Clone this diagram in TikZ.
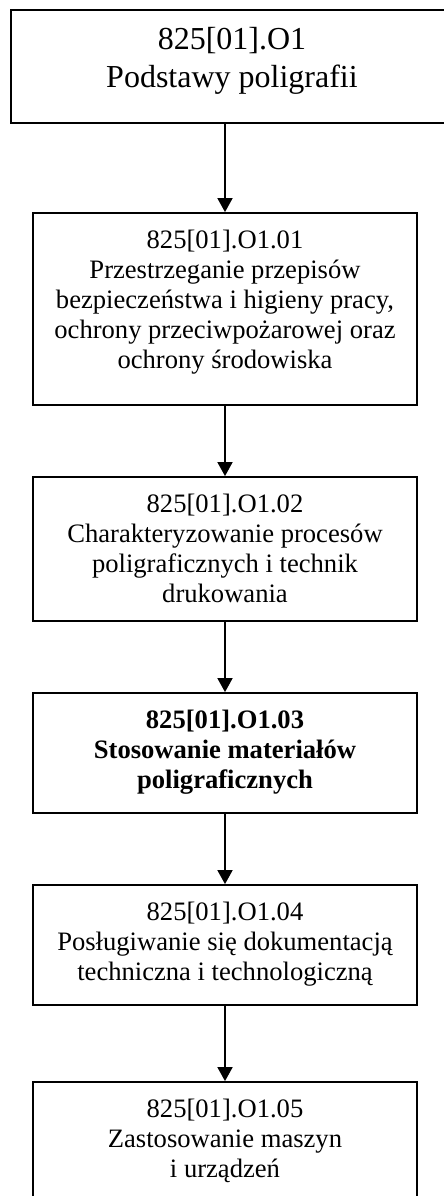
\documentclass[tikz,border=0pt]{standalone}
\usepackage{fontspec}
\setmainfont{Liberation Serif}
\usetikzlibrary{arrows.meta}
\tikzset{
  box/.style={draw=black, line width=1.8pt, rectangle, inner sep=0pt, fill=white},
  txt/.style={inner sep=0pt, anchor=base},
  arr/.style={draw=black, line width=1.8pt, -{Triangle[width=15pt,length=14pt]}}
}
\newcommand{\bodytext}[1]{\parbox[t]{380pt}{\centering\fontsize{26.6}{30}\selectfont #1}}
\newcommand{\titletext}[1]{\parbox[t]{430pt}{\centering\fontsize{32}{38}\selectfont #1}}
\begin{document}
\begin{tikzpicture}[x=1pt,y=-1pt]
\useasboundingbox (0,0) rectangle (444,1196);
\clip (0,0) rectangle (444,1196);
\fill[white] (0,0) rectangle (444,1196);

\node[box, minimum width=442pt, minimum height=113pt] (b1) at (232,66.5) {};
\node[box, minimum width=384pt, minimum height=192pt] (b2) at (225,309) {};
\node[box, minimum width=384pt, minimum height=144pt] (b3) at (225,549) {};
\node[box, minimum width=384pt, minimum height=120pt] (b4) at (225,753) {};
\node[box, minimum width=384pt, minimum height=120pt] (b5) at (225,945) {};
\node[box, minimum width=384pt, minimum height=140pt] (b6) at (225,1152) {};

\node[txt] (t1) at (232,50) {\titletext{825[01].O1\\Podstawy poligrafii}};
\node[txt] (t2) at (225,248) {\bodytext{825[01].O1.01\\Przestrzeganie przepisów\\bezpieczeństwa i higieny pracy,\\ochrony przeciwpożarowej oraz\\ochrony środowiska}};
\node[txt] (t3) at (225,512) {\bodytext{825[01].O1.02\\Charakteryzowanie procesów\\poligraficznych i technik\\drukowania}};
\node[txt] (t4) at (225,728) {\bodytext{\bfseries 825[01].O1.03\\Stosowanie materiałów\\poligraficznych}};
\node[txt] (t5) at (225,920) {\bodytext{825[01].O1.04\\Posługiwanie się dokumentacją\\techniczna i technologiczną}};
\node[txt] (t6) at (225,1117) {\bodytext{825[01].O1.05\\Zastosowanie maszyn\\i urządzeń}};

\draw[arr] (b1.south -| b2.north) -- (b2.north);
\draw[arr] (b2.south) -- (b3.north);
\draw[arr] (b3.south) -- (b4.north);
\draw[arr] (b4.south) -- (b5.north);
\draw[arr] (b5.south) -- (b6.north);
\end{tikzpicture}
\end{document}
